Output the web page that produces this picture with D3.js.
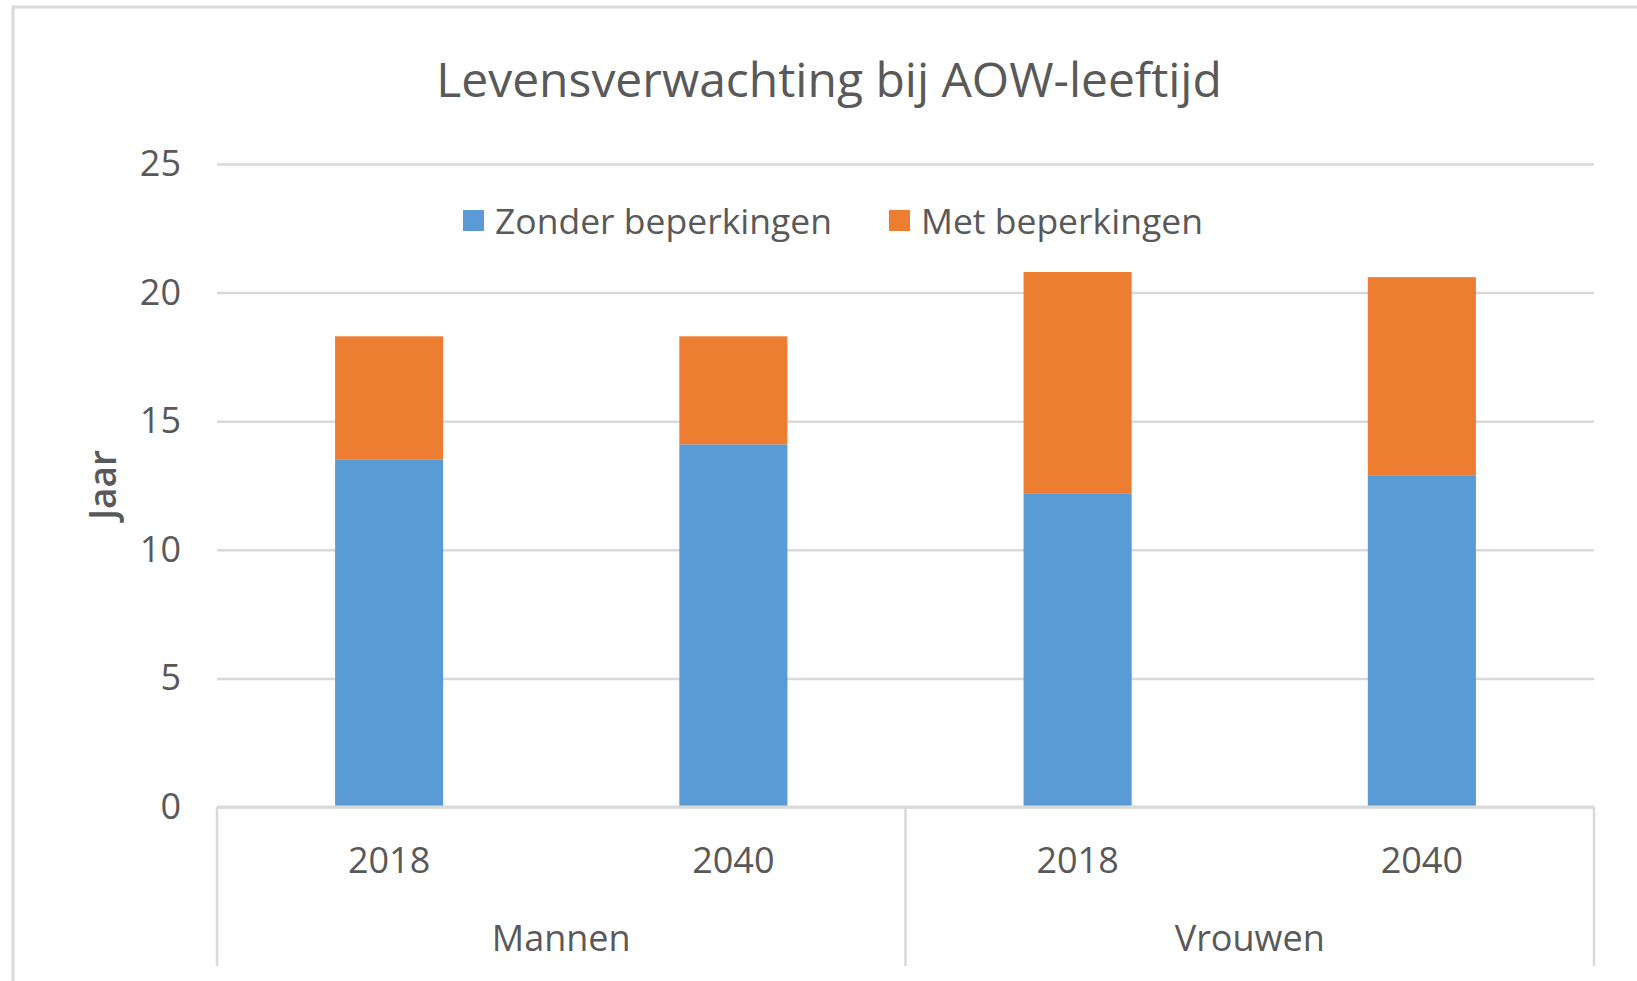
<!DOCTYPE html>
<html>
<head>
<meta charset="utf-8">
<script src="https://cdn.jsdelivr.net/npm/d3@7"></script>
<style>
  body { margin: 0; background: #fff; }
  svg { display: block; font-family: "Open Sans", sans-serif; }
  .axis text { fill: #595959; font-family: "Open Sans", sans-serif; }
</style>
</head>
<body>
<div class="canvas"></div>
<script>
const title = "Levensverwachting bij AOW-leeftijd";
const groups = ["Mannen", "Vrouwen"];
const years = ["2018", "2040"];
const seriesNames = ["Zonder beperkingen", "Met beperkingen"];
// per bar: Mannen 2018, Mannen 2040, Vrouwen 2018, Vrouwen 2040
const zonder = [13.5, 14.1, 12.2, 12.9];
const met = [4.8, 4.2, 8.6, 7.7];
const yTicks = [0, 5, 10, 15, 20, 25];

const colors = ["#5B9BD5", "#ED7D31"];

const W = 1637, H = 981;
const margin = { top: 164, right: 43, bottom: 174, left: 217 };
const width = W - margin.left - margin.right;
const height = H - margin.top - margin.bottom;

const rows = [];
groups.forEach((g, gi) => {
  years.forEach((yr, yi) => {
    const i = gi * years.length + yi;
    rows.push({ key: g + " " + yr, group: g, year: yr, zonder: zonder[i], met: met[i] });
  });
});

const stacked = d3.stack().keys(["zonder", "met"])(rows);

const x = d3.scaleBand()
  .domain(rows.map((d) => d.key))
  .range([0, width])
  .paddingInner(0.686)
  .paddingOuter(0.343);

const y = d3.scaleLinear().domain([0, 25]).range([height, 0]);

const svg = d3.select(".canvas").append("svg")
  .attr("width", W)
  .attr("height", H);

// chart area border (cropped on right / bottom)
svg.append("rect")
  .attr("x", 13).attr("y", 7)
  .attr("width", 1700).attr("height", 1100)
  .attr("fill", "#fff")
  .attr("stroke", "#d9d9d9")
  .attr("stroke-width", 3);

svg.append("text")
  .attr("x", 829).attr("y", 78)
  .attr("text-anchor", "middle")
  .attr("dominant-baseline", "central")
  .attr("fill", "#595959")
  .style("font-size", "48px")
  .text(title);

const chart = svg.append("g")
  .attr("transform", `translate(${margin.left}, ${margin.top})`);

// gridlines + y labels
const yAxis = chart.append("g").attr("class", "axis")
  .call(d3.axisLeft(y).tickValues(yTicks).tickSize(-width).tickPadding(36));
yAxis.select(".domain").remove();
yAxis.selectAll("line").attr("stroke", "#d9d9d9").attr("stroke-width", 2.5);
yAxis.selectAll("text").style("font-size", "36px");

// bars
chart.selectAll(".series")
  .data(stacked)
  .enter().append("g")
  .attr("fill", (d, i) => colors[i])
  .selectAll("rect")
  .data((d) => d)
  .enter().append("rect")
  .attr("x", (d) => x(d.data.key))
  .attr("width", x.bandwidth())
  .attr("y", (d) => y(d[1]))
  .attr("height", (d) => y(d[0]) - y(d[1]));

// category axis
const xAxis = chart.append("g").attr("class", "axis")
  .attr("transform", `translate(0, ${height})`);
xAxis.append("line")
  .attr("x1", 0).attr("x2", width)
  .attr("stroke", "#d9d9d9").attr("stroke-width", 3);

const groupW = x.step() * years.length;
d3.range(groups.length + 1).forEach((i) => {
  xAxis.append("line")
    .attr("x1", i * groupW).attr("x2", i * groupW)
    .attr("y1", 0).attr("y2", 159)
    .attr("stroke", "#d9d9d9").attr("stroke-width", 2.5);
});

xAxis.selectAll(".year")
  .data(rows)
  .enter().append("text")
  .attr("class", "year")
  .attr("x", (d) => x(d.key) + x.bandwidth() / 2)
  .attr("y", 52)
  .attr("text-anchor", "middle")
  .attr("dominant-baseline", "central")
  .style("font-size", "36px")
  .text((d) => d.year);

xAxis.selectAll(".group")
  .data(groups)
  .enter().append("text")
  .attr("class", "group")
  .attr("x", (d, i) => i * groupW + groupW / 2)
  .attr("y", 130)
  .attr("text-anchor", "middle")
  .attr("dominant-baseline", "central")
  .style("font-size", "36px")
  .text((d) => d);

// y axis title
svg.append("text")
  .attr("transform", "translate(101, 485) rotate(-90)")
  .attr("text-anchor", "middle")
  .attr("dominant-baseline", "central")
  .attr("fill", "#595959")
  .style("font-size", "37px")
  .style("font-weight", 600)
  .text("Jaar");

// legend
const legendX = [463, 889];
const legend = svg.append("g");
seriesNames.forEach((name, i) => {
  legend.append("rect")
    .attr("x", legendX[i]).attr("y", 210)
    .attr("width", 21).attr("height", 21)
    .attr("fill", colors[i]);
  legend.append("text")
    .attr("x", legendX[i] + 32).attr("y", 220)
    .attr("dominant-baseline", "central")
    .attr("fill", "#595959")
    .style("font-size", "35.5px")
    .text(name);
});
</script>
</body>
</html>
